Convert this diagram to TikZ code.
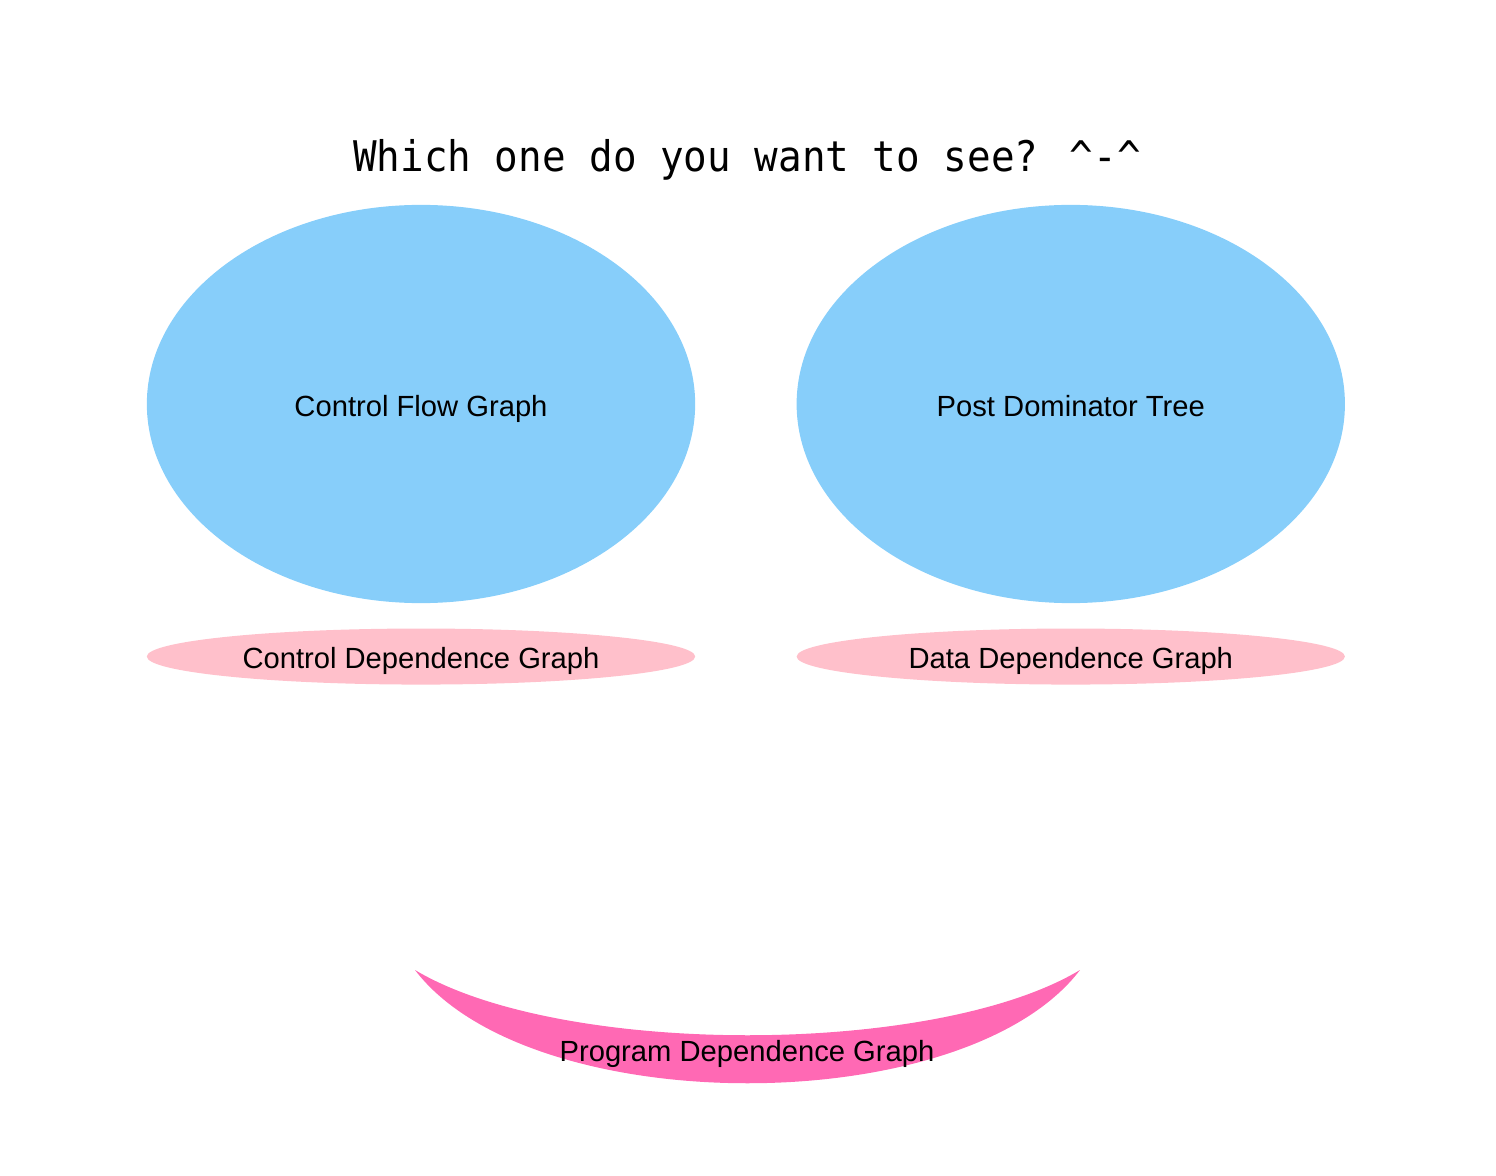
\documentclass[tikz,border=0pt]{standalone}
\usepackage{fontspec}
\setmainfont{Liberation Sans}
\newfontfamily\titlefont[FakeStretch=0.93]{DejaVu Sans Mono}
\usetikzlibrary{positioning,shapes.geometric}
\definecolor{skyfill}{HTML}{87CEFA}
\definecolor{pinkfill}{HTML}{FFC0CB}
\definecolor{smilefill}{HTML}{FF69B4}
\tikzset{
  label text/.style={font=\fontsize{8.3}{10}\selectfont, text height=7pt, text depth=0pt},
  bigoval/.style={ellipse, fill=skyfill, inner sep=0pt, minimum width=5.48cm, minimum height=3.98cm, label text},
  thinoval/.style={ellipse, fill=pinkfill, inner sep=0pt, minimum width=5.48cm, minimum height=0.56cm, label text}
}

\begin{document}
\begin{tikzpicture}[x=0.01cm, y=-0.01cm]
    \useasboundingbox (0,0) rectangle (1496,1176);

    % Question on top
    \node[font=\titlefont\fontsize{12}{15}\selectfont] (question) at (747,160) {Which one do you want to see? \^{}-\^{}};

    % Eyes
    \node[bigoval] (CFG) at (421,404) {Control Flow Graph};
    \node[bigoval, right=1.0cm of CFG] (PDT) {Post Dominator Tree};

    % Eyelids
    \node[thinoval, below=0.24cm of CFG] (CDG) {Control Dependence Graph};
    \node[thinoval, below=0.24cm of PDT] (DDG) {Data Dependence Graph};

    % Smile
    \fill[smilefill] (415,970) .. controls (530,1121) and (965,1121) .. (1080,970)
        .. controls (935,1057) and (560,1057) .. cycle;
    \node[label text] (PDG) at (747,1049) {Program Dependence Graph};
\end{tikzpicture}
\end{document}
